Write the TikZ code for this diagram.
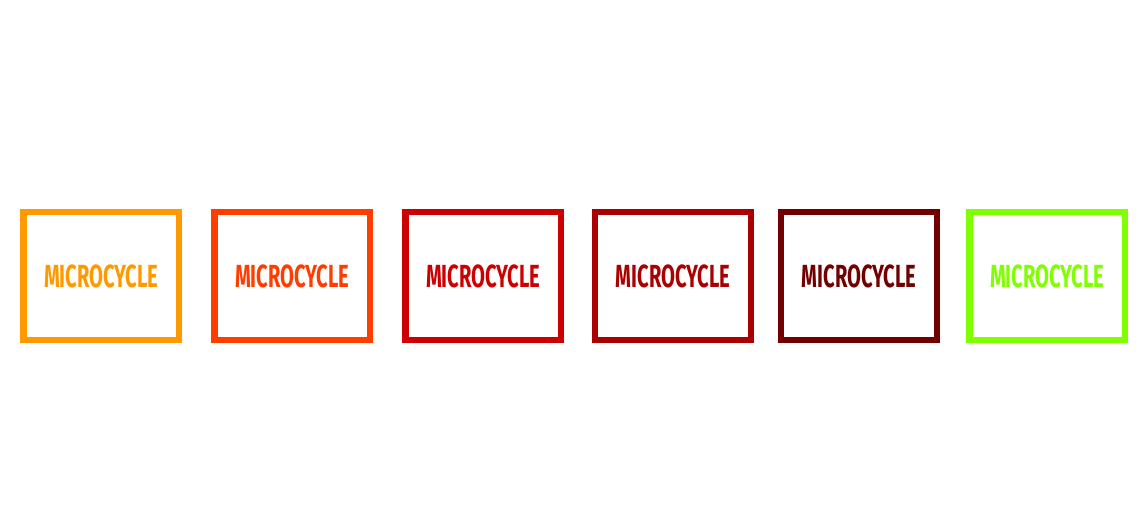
\documentclass[tikz,border=0pt]{standalone}
\usepackage{fontspec}
\newfontfamily\cyclefont[FakeStretch=0.63]{Fira Sans}
\usepackage{tikz}
\definecolor{mcorange}{HTML}{FF9900}
\definecolor{mcred}{HTML}{FF3D00}
\definecolor{mccrimson}{HTML}{CC0000}
\definecolor{mcdark}{HTML}{AA0000}
\definecolor{mcmaroon}{HTML}{730000}
\definecolor{mcgreen}{HTML}{80FF00}
\tikzset{
  micro/.style={
    draw=#1,text=#1,line width=6.3pt,
    minimum width=155.7pt,minimum height=127.7pt,
    font=\cyclefont\bfseries\fontsize{32}{32}\selectfont,
    inner sep=0pt,
  },
}

\begin{document}
\begin{tikzpicture}[x=1pt,y=1pt]
        \useasboundingbox (0,0) rectangle (1146,519);
        % microcycles
        \node[micro=mcorange] (mc1) at (101.3,242.8) {MICROCYCLE};
        \node[micro=mcred] (mc2) at (292.3,242.8) {MICROCYCLE};
        \node[micro=mccrimson] (mc3) at (483.3,242.8) {MICROCYCLE};
        \node[micro=mcdark] (mc4) at (673.0,242.8) {MICROCYCLE};
        \node[micro=mcmaroon] (mc5) at (859.0,242.8) {MICROCYCLE};
        \node[micro=mcgreen] (mc6) at (1047.3,242.8) {MICROCYCLE};
    \end{tikzpicture}
\end{document}
